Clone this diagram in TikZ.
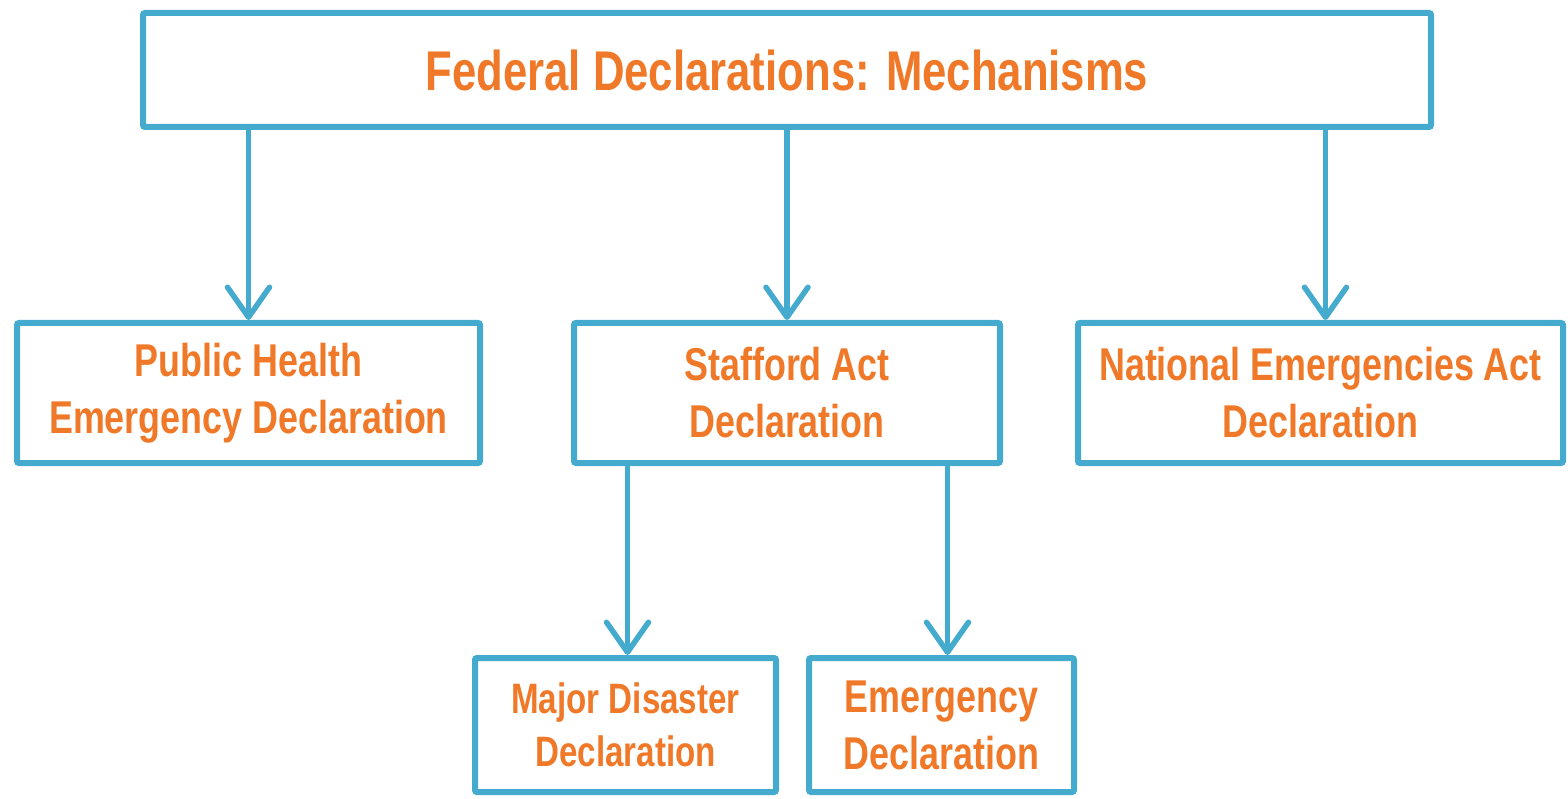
\documentclass[tikz,border=0pt]{standalone}
\usepackage{fontspec}
\setmainfont[FakeStretch=0.78]{Liberation Sans}
\usetikzlibrary{positioning}
\usetikzlibrary{arrows.meta}

\definecolor{declblue}{RGB}{68,171,206}
\definecolor{declorange}{RGB}{239,121,40}

\begin{document}
\begin{tikzpicture}[x=1pt,y=1pt,->,>={Straight Barb[length=30pt,width=42pt,round]},
	line width=5.5pt,color=declblue,
	decl box/.style={rectangle,draw=declblue,line width=6pt,rounded corners=2pt,
		text=declorange,font=\bfseries\fontsize{46}{57}\selectfont,align=center,
		inner sep=0pt,minimum height=140pt}]
	
	\useasboundingbox (0,0) rectangle (1568,-799);
	
	\node[decl box, minimum width=1288pt, minimum height=114pt,
		font=\bfseries\fontsize{56}{64}\selectfont] (top) at (787,-70) {Federal Declarations: Mechanisms};
	\node[decl box, minimum width=426pt, node distance=323pt, below of=top] (staff) {Stafford Act\\Declaration};
	\node[decl box, minimum width=463pt, node distance=538.5pt, left of=staff] (ph) {Public Health\\Emergency Declaration};
	\node[decl box, minimum width=485pt, node distance=533.5pt, right of=staff] (nea) {National Emergencies Act\\Declaration};
	\node[decl box, minimum width=301pt, minimum height=134pt, node distance=332pt, below of=staff, xshift=-161.5pt,
		font=\bfseries\fontsize{42.5}{53}\selectfont] (major) {Major Disaster\\Declaration};
	\node[decl box, minimum width=265pt, minimum height=134pt, node distance=316pt, right of=major] (emerg) {Emergency\\Declaration};
	
	\path
	(top.south -| ph.north) edge (ph.north)
	(top.south -| staff.north) edge (staff.north)
	([xshift=5pt]top.south -| nea.north) edge ([xshift=5pt]nea.north)
	([xshift=2pt]staff.south -| major.north) edge ([xshift=2pt]major.north)
	([xshift=6pt]staff.south -| emerg.north) edge ([xshift=6pt]emerg.north);
\end{tikzpicture}
\end{document}
